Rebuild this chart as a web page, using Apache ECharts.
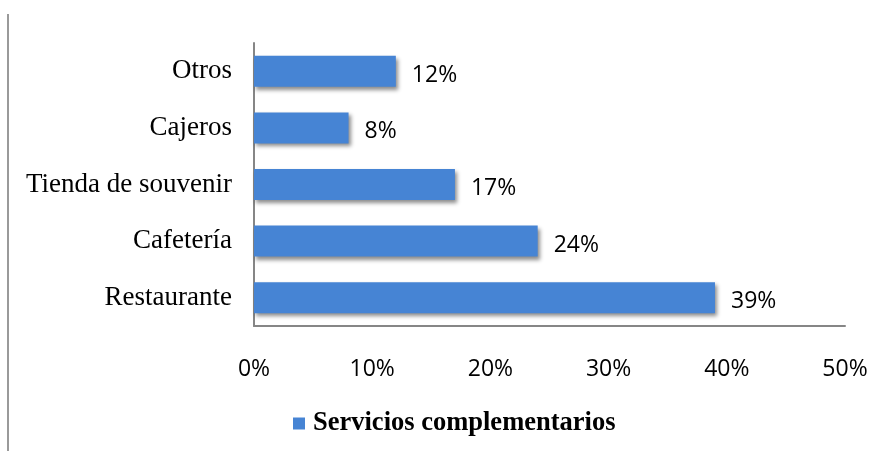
<!DOCTYPE html>
<html><head><meta charset="utf-8">
<script src="https://cdn.jsdelivr.net/npm/echarts@6/dist/echarts.min.js"></script>
<style>html,body{margin:0;padding:0;background:#fff}#c{width:884px;height:451px}</style>
</head><body><div id="c"></div>
<script>
const categories = ["Restaurante", "Cafetería", "Tienda de souvenir", "Cajeros", "Otros"];
const values = [39, 24, 17, 8, 12];
const seriesName = "Servicios complementarios";
const chart = echarts.init(document.getElementById('c'), null, {renderer: 'canvas'});
chart.setOption({
  animation: false,
  backgroundColor: '#fff',
  grid: {left: 254, right: 39, top: 43, bottom: 125, containLabel: false},
  xAxis: {
    type: 'value', min: 0, max: 50, interval: 10,
    axisLine: {show: true, onZero: false, lineStyle: {color: '#868686', width: 2}},
    axisTick: {show: false},
    splitLine: {show: false},
    axisLabel: {formatter: '{value}%', color: '#000', fontFamily: 'Open Sans', fontSize: 23, margin: 32}
  },
  yAxis: {
    type: 'category', data: categories,
    axisLine: {show: true, lineStyle: {color: '#868686', width: 2}},
    axisTick: {show: false},
    axisLabel: {color: '#000', fontFamily: 'Liberation Serif', fontSize: 27, margin: 22}
  },
  legend: {
    top: 405, left: 288, itemWidth: 12, itemHeight: 12, itemGap: 8,
    icon: 'rect',
    textStyle: {fontFamily: 'Liberation Serif', fontWeight: 'bold', fontSize: 26.5, color: '#000', padding: [0, 0, 0, 3]},
    data: [seriesName]
  },
  graphic: [{type: 'line', shape: {x1: 8, y1: 14, x2: 8, y2: 451}, style: {stroke: '#9a9a9a', lineWidth: 2}}],
  series: [{
    name: seriesName, type: 'bar', data: values, barWidth: 31,
    itemStyle: {color: '#4684D4', shadowColor: 'rgba(0,0,0,0.45)', shadowBlur: 4, shadowOffsetX: 2, shadowOffsetY: 3},
    label: {show: true, position: 'right', distance: 16, offset: [0, 4], formatter: '{c}%', color: '#000', fontFamily: 'Open Sans', fontSize: 23}
  }]
});
</script></body></html>
